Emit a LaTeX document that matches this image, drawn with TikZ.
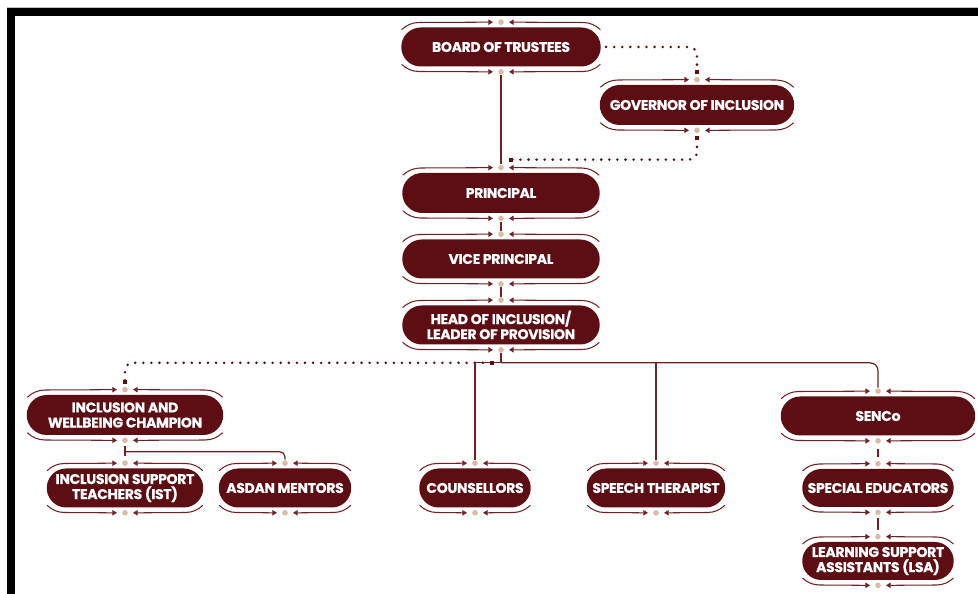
\documentclass[tikz,border=0pt]{standalone}
\usepackage{fontspec}
\newfontfamily\pillfont{Poppins}[LetterSpace=-2.5, BoldFeatures={FakeBold=0.5}]
\usetikzlibrary{arrows.meta, calc, shapes.misc}
\definecolor{pillred}{HTML}{5C0E12}
\definecolor{linered}{HTML}{6E2226}
\definecolor{dotbeige}{HTML}{D8BBA9}

\tikzset{
  pill/.style={rounded rectangle, fill=pillred, text=white, align=center, inner sep=1pt,
    font=\pillfont\bfseries\fontsize{8}{8.6}\selectfont},
  frill/.style={draw=linered, line width=0.6pt},
  fliptip/.style={-{Triangle[length=2.6pt,width=3pt]}},
  link/.style={draw=linered, line width=0.7pt, shorten <=2pt, shorten >=2pt},
  dotlink/.style={draw=pillred, line width=1.6pt, line cap=round,
    dash pattern=on 0pt off 4.6pt, rounded corners=4.5pt},
  endsq/.tip={Square[length=2.4pt,width=2.4pt]},
}

% pill box with its two frills: name, x, y, width, height, text (pixel units)
\newcommand{\orgpill}[6]{%
  \node[pill, minimum width={#4*0.02cm}, minimum height={#5*0.02cm}] (#1) at (#2,-#3) {#6};
  \coordinate (#1-t) at ($(#1.north)+(0,5)$);
  \coordinate (#1-b) at ($(#1.south)+(0,-5)$);
  \pgfmathsetmacro\frr{#5/2+5}%
  \pgfmathsetmacro\fdx{#4/2-#5/2}%
  \draw[frill,fliptip] ($(#1.center)+(-\fdx,0)$) ++(135:\frr) arc[start angle=135,end angle=90,radius=\frr] -- ($(#1-t)+(-8,0)$);
  \draw[frill,fliptip] ($(#1.center)+(\fdx,0)$) ++(45:\frr) arc[start angle=45,end angle=90,radius=\frr] -- ($(#1-t)+(8,0)$);
  \draw[frill,fliptip] ($(#1.center)+(-\fdx,0)$) ++(225:\frr) arc[start angle=225,end angle=270,radius=\frr] -- ($(#1-b)+(-8,0)$);
  \draw[frill,fliptip] ($(#1.center)+(\fdx,0)$) ++(315:\frr) arc[start angle=315,end angle=270,radius=\frr] -- ($(#1-b)+(8,0)$);
  \fill[dotbeige] (#1-t) circle[radius=1.6pt] (#1-b) circle[radius=1.6pt];
}

\begin{document}
\begin{tikzpicture}[x=0.02cm, y=0.02cm]
\useasboundingbox (0,0) rectangle (978,-594);
% frame
\draw[gray!50, line width=0.6pt] (7,-8) -- (978,-8);
\fill[black] (7,-8) rectangle (978,-16);
\fill[black] (7,-8) rectangle (15,-594);

% nodes
\orgpill{bot}{501}{47}{203}{39}{BOARD OF TRUSTEES}
\orgpill{gov}{697}{105}{198}{40}{GOVERNOR OF INCLUSION}
\orgpill{pri}{501}{193}{201}{40}{PRINCIPAL}
\orgpill{vic}{501}{259}{201}{39}{VICE PRINCIPAL}
\orgpill{hea}{501}{325}{201}{39}{HEAD OF INCLUSION/\\LEADER OF PROVISION}
\orgpill{cha}{125}{415}{200}{40}{INCLUSION AND\\WELLBEING CHAMPION}
\orgpill{ist}{125}{488}{160}{39}{INCLUSION SUPPORT\\TEACHERS (IST)}
\orgpill{asd}{285}{488}{136}{39}{ASDAN MENTORS}
\orgpill{cou}{475}{488}{115}{39}{COUNSELLORS}
\orgpill{spe}{656}{488}{142}{39}{SPEECH THERAPIST}
\orgpill{sen}{878}{416}{198}{39}{SENCo}
\orgpill{sed}{878}{488}{155}{38}{SPECIAL EDUCATORS}
\orgpill{lsa}{878}{561}{155}{38}{LEARNING SUPPORT\\ASSISTANTS (LSA)}

% solid links
\draw[link] (bot-b) -- (pri-t);
\draw[link] (pri-b) -- (vic-t);
\draw[link] (vic-b) -- (hea-t);
\coordinate (hj) at ($(hea-b)+(0,-13)$);
\draw[link, shorten >=0pt] (hea-b) -- (hj);
\draw[link, shorten <=0pt] (hj) -- (hj -| cou-t) -- (cou-t);
\draw[link, shorten <=0pt] (hj -| spe-t) -- (spe-t);
\draw[link, shorten <=0pt, rounded corners=4.5pt] (hj) -| (sen-t);
\coordinate (cj) at ($(cha-b)!0.5!(ist-t)$);
\draw[link, shorten <=3.5pt, shorten >=4pt] (cha-b) -- (ist-t);
\draw[link, shorten <=0pt, rounded corners=3pt] (cj) -| (asd-t);
\draw[link, shorten <=4.5pt, shorten >=4pt] (sen-b) -- (sed-t);
\draw[link, shorten <=3pt, shorten >=4pt] (sed-b) -- (lsa-t);

% dotted links
\coordinate (pj) at ($(pri-t)+(8,8)$);
\draw[dotlink, -endsq, shorten >=3pt] ($(bot.east)+(5,0)$) -| (gov-t);
\draw[dotlink, endsq-endsq, shorten <=3pt] (gov-b) |- (pj);
\draw[dotlink, endsq-endsq, shorten >=3pt] ($(hj)+(-7,0)$) -| (cha-t);
\end{tikzpicture}
\end{document}
